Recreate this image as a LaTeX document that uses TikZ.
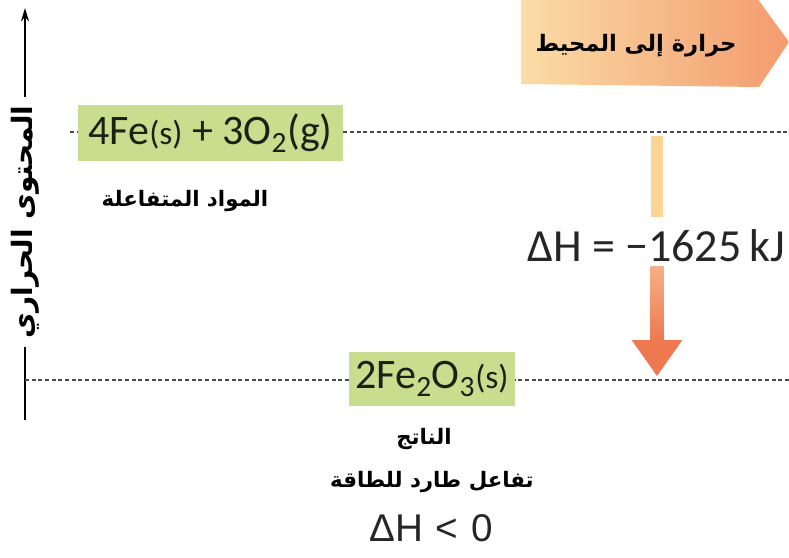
\documentclass[tikz,border=0pt]{standalone}
\usepackage{fontspec}
\setmainfont{Carlito}
\newfontfamily\arabicfont[Script=Arabic]{DejaVu Sans}
\newfontfamily\arialfont{Liberation Sans}
\TeXXeTstate=1
\usetikzlibrary{arrows.meta}
\definecolor{boxgreen}{HTML}{C8DE8E}
\definecolor{heatL}{HTML}{FBDCA6}
\definecolor{heatR}{HTML}{F39B6E}
\definecolor{upseg}{HTML}{FCD494}
\definecolor{lowT}{HTML}{F6B088}
\definecolor{lowB}{HTML}{EE7850}
\definecolor{dashgray}{HTML}{4A4A4A}
\definecolor{textdark}{HTML}{1C2016}
\newcommand{\stt}[1]{{\fontsize{25}{28}\selectfont #1}}
\begin{document}
\begin{tikzpicture}[x=0.75pt,y=-0.75pt,
  chembox/.style={fill=boxgreen, inner sep=0pt, text=textdark,
    font=\fontsize{31.5}{36}\selectfont},
  levelline/.style={draw=dashgray, line width=1.4pt, dash pattern=on 3pt off 2pt},
  artext/.style={font=\arabicfont\bfseries\fontsize{16}{20}\selectfont, inner sep=0pt},
  eqtext/.style={font=\fontsize{34.5}{40}\selectfont, text=black!85, inner sep=0pt},
  axisline/.style={draw=black, line width=1.6pt}
]
\path[use as bounding box] (0,0) rectangle (789,557);

% heat to surroundings arrow
\shade[left color=heatL, right color=heatR] (521,-2) -- (757,-2) -- (789,42) -- (759,87) -- (521,84) -- cycle;
\node[artext, font=\arabicfont\bfseries\fontsize{17}{20}\selectfont] (heat) at (636,46) {\beginR حرارة إلى المحيط\endR};

% axis
\coordinate (axtop) at (25,8);
\coordinate (axbot) at (25,420);
\node[rotate=90, inner sep=0pt, font=\arabicfont\bfseries\fontsize{21}{26}\selectfont] (axlabel) at (25,222) {\beginR المحتوى الحراري\endR};
\draw[axisline, -{Stealth[length=10pt,width=6pt]}] ([yshift=6pt]axlabel.east) -- (axtop);
\draw[axisline] ([yshift=-6pt]axlabel.west) -- (axbot);

% reactant level
\coordinate (rL) at (70,132);
\coordinate (rR) at (789,132);
\draw[levelline] (rL) -- (rR);
\node[chembox, minimum width=198.75pt, minimum height=42pt] (react) at (210.5,133) {4Fe\stt{(s)} + 3O\textsubscript{2}(g)};
\node[artext] (reactlbl) at (185,201) {\beginR المواد المتفاعلة\endR};

% product level
\coordinate (pL) at (25,380);
\coordinate (pR) at (789,380);
\draw[levelline] (pL) -- (pR);
\node[chembox, minimum width=124pt, minimum height=41pt] (prod) at (432,379) {2Fe\textsubscript{2}O\textsubscript{3}\stt{(s)}};
\node[artext] (prodlbl) at (424,439) {\beginR الناتج\endR};
\node[artext] (exolbl) at (432,482) {\beginR تفاعل طارد للطاقة\endR};
\node[inner sep=0pt, font=\arialfont\fontsize{29}{34}\selectfont, text=black!85] (dhneg) at (431,528) {ΔH\,\,<\,\,0};

% enthalpy change arrow
\node[eqtext] (dh) at (656,246) {ΔH = −1625\,kJ};
\coordinate (upA) at (657,136);
\coordinate (upB) at (657,217);
\draw[upseg, line width=8.5pt] (upA) -- (upB);
\coordinate (lowA) at (657,266);
\coordinate (neck) at (657,340);
\coordinate (tip) at (657,376);
\shade[top color=lowT, bottom color=lowB] ([xshift=-5]lowA) rectangle ([xshift=5]neck);
\fill[lowB] ([xshift=-19]neck) -- ([xshift=19]neck) -- (tip) -- cycle;
\end{tikzpicture}
\end{document}
